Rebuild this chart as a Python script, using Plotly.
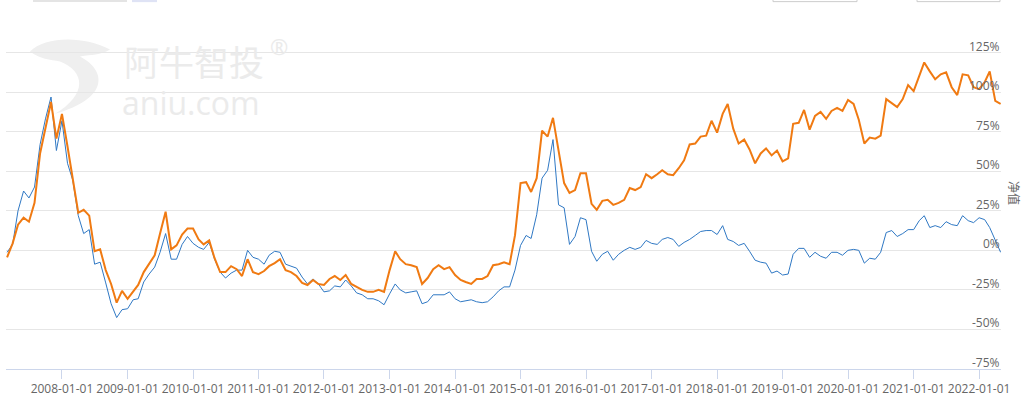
import plotly.graph_objects as go
import pandas as pd

# monthly samples, 2007-03 .. 2022-05
months = pd.date_range("2007-03-01", periods=183, freq="MS")

blue_pct = [
    -1.25, 3.75, 25, 37.5, 33.1, 40, 66.9, 83.1, 96.9, 63.1,
    81.9, 55, 44.4, 21.9, 10.6, 13.1, -8.75, -7.5, -20.6, -33.75,
    -42.5, -37.5, -36.9, -31.25, -30.6, -20, -15, -10.6, -1.25, 10.6,
    -5.6, -5.6, 3.75, 8.75, 4.4, 1.9, 0.6, 5, -5.6, -13.75,
    -17.5, -14.4, -12.5, -12.5, 0, -4.4, -5.6, -8.75, -3.1, -0.6,
    -1.25, -8.75, -10, -11.25, -16.9, -21.25, -18.1, -21.25, -26.25, -25.6,
    -22.5, -23.1, -18.75, -22.5, -26.9, -28.1, -30.6, -30.6, -31.9, -34.4,
    -27.5, -21.25, -25, -26.9, -26.25, -25.6, -33.75, -32.5, -28.1, -28.1,
    -28.1, -26.25, -30.6, -32.5, -31.9, -31.25, -32.5, -33.1, -32.5, -29.4,
    -25.6, -23.1, -23.1, -12.5, 3.1, 9.4, 7.5, 22.5, 45.6, 50.6,
    70, 28.75, 26.9, 3.75, 8.75, 20.6, 19.4, -0.6, -6.9, -2.5,
    -0.6, -6.25, -2.5, 0, 1.9, 0.6, 1.9, 6.25, 4.4, 3.75,
    6.9, 8.1, 6.9, 2.5, 5, 6.9, 9.4, 11.9, 12.5, 12.5,
    10, 15.6, 6.9, 5.6, 3.1, 4.4, -0.6, -6.25, -7.5, -8.1,
    -14.4, -13.1, -15.6, -15, -2.5, 1.25, 1.25, -4.4, -1.25, -3.75,
    -5, -1.25, -1.25, -3.1, 0, 0.6, 0, -8.1, -5, -5.6,
    -1.25, 11.25, 12.5, 8.75, 10.6, 13.1, 13.1, 18.75, 21.9, 14.4,
    15.6, 14.4, 18.1, 16.25, 15.6, 21.9, 18.75, 17.5, 20.6, 19.4,
    14.4, 6.25, -1.25,
]

orange_pct = [
    -4.4, 4.4, 16.25, 20.6, 18.1, 30, 61.25, 78.1, 93.75, 70.6,
    86.25, 65.6, 44.4, 23.75, 25.6, 21.9, -0.6, 0.6, -12.5, -21.25,
    -33.1, -25.6, -30.6, -26.25, -21.9, -13.75, -8.75, -3.1, 10.6, 24.4,
    0.6, 3.1, 10, 13.75, 13.75, 6.9, 3.75, 6.25, -5, -13.75,
    -13.75, -10, -11.9, -16.25, -5.6, -13.75, -15, -13.1, -10, -8.1,
    -5.6, -12.5, -13.75, -16.25, -20.6, -21.9, -18.75, -21.25, -21.9, -18.1,
    -16.25, -18.75, -15.6, -21.25, -23.1, -25, -26.25, -26.25, -25, -26.25,
    -12.5, -0.6, -5.6, -8.75, -9.4, -10.6, -21.25, -17.5, -11.9, -9.4,
    -11.9, -10.6, -15.6, -18.75, -20, -21.25, -18.1, -18.1, -16.25, -9.4,
    -8.75, -7.5, -8.75, 9.4, 42.5, 43.1, 36.9, 45.6, 75.6, 71.9,
    83.75, 63.1, 42.5, 36.25, 38.1, 48.75, 48.75, 29.4, 25.6, 31.25,
    31.9, 28.75, 30, 31.9, 39.4, 38.1, 40, 48.1, 45.6, 48.1,
    50.6, 48.1, 47.5, 51.9, 56.9, 66.9, 67.5, 71.9, 72.5, 81.9,
    74.4, 86.25, 92.5, 76.9, 67.5, 70, 63.75, 55, 61.25, 64.4,
    60, 63.1, 56.25, 58.1, 80, 80.6, 88.75, 76.25, 85, 87.5,
    83.1, 88.1, 90, 88.1, 95, 92.5, 82.5, 67.5, 71.25, 70.6,
    72.5, 95.6, 93.1, 90.6, 95.6, 104.4, 100.6, 110.6, 118.75, 113.1,
    108.1, 111.25, 112.5, 103.1, 98.1, 111.25, 110.6, 103.1, 101.9, 106.25,
    113.1, 94.4, 92.5,
]

y_ticks = [-75, -50, -25, 0, 25, 50, 75, 100, 125]
y_labels = ["-75%", "-50%", "-25%", "0%", "25%", "50%", "75%", "100%", "125%"]
x_ticks = [f"{y}-01-01" for y in range(2008, 2023)]

W, H = 1024, 403
L, R, T, B = 6, 23, 13, 30
GRAY = "#666666"


def paper(px, py):
    # pixel position -> paper coords (for the watermark only)
    return (px - L) / (W - L - R), (H - B - py) / (H - T - B)


def path_from(points):
    out = []
    for cmd, pts in points:
        coords = " ".join("%.4f,%.4f" % paper(*p) for p in pts)
        out.append(cmd + " " + coords)
    return " ".join(out) + " Z"


fig = go.Figure()

fig.add_trace(go.Scatter(
    x=months, y=blue_pct, mode="lines", name="基准",
    line=dict(color="#2f78c4", width=1),
))
fig.add_trace(go.Scatter(
    x=months, y=orange_pct, mode="lines", name="策略",
    line=dict(color="#f07a12", width=2),
))

# watermark logo (light swoosh)
logo = path_from([
    ("M", [(30, 52)]),
    ("C", [(45, 36), (85, 36), (110, 50)]),
    ("C", [(100, 56), (92, 55), (80, 57)]),
    ("C", [(108, 72), (108, 100), (55, 115)]),
    ("C", [(88, 95), (85, 72), (60, 62)]),
    ("C", [(50, 60), (40, 60), (30, 52)]),
])
fig.add_shape(type="path", path=logo, xref="paper", yref="paper",
              fillcolor="#efefef", line=dict(width=0), layer="below")

annotations = [
    dict(text="阿牛智投", x=paper(122, 0)[0], y=paper(0, 61)[1], xref="paper", yref="paper",
         xanchor="left", yanchor="middle", showarrow=False, height=38,
         font=dict(size=35, color="#ebebeb", family="Noto Sans CJK SC")),
    dict(text="®", x=paper(268, 0)[0], y=paper(0, 46)[1], xref="paper", yref="paper",
         xanchor="left", yanchor="middle", showarrow=False,
         font=dict(size=22, color="#ebebeb", family="Noto Sans")),
    dict(text="aniu.com", x=paper(120, 0)[0], y=paper(0, 103)[1], xref="paper", yref="paper",
         xanchor="left", yanchor="middle", showarrow=False, height=34,
         font=dict(size=32, color="#ebebeb", family="Open Sans")),
    dict(text="净值", x=paper(1014, 0)[0], y=paper(0, 195)[1], xref="paper", yref="paper",
         xanchor="center", yanchor="middle", showarrow=False, textangle=90,
         font=dict(size=12, color=GRAY, family="Noto Sans CJK SC")),
]
for v, t in zip(y_ticks, y_labels):
    annotations.append(dict(
        text=t, x=1.0, y=v, xref="paper", yref="y", xanchor="right", yanchor="bottom",
        yshift=-3, showarrow=False, font=dict(size=12, color=GRAY, family="Open Sans"),
        borderpad=0,
    ))

# cut-off toolbar pieces at the very top
for x0, x1, col in [(33, 127, "#e4e4e4"), (132, 157, "#dfe3f5")]:
    fig.add_shape(type="rect", xref="paper", yref="paper",
                  x0=paper(x0, 0)[0], x1=paper(x1, 0)[0],
                  y0=paper(0, 2)[1], y1=paper(0, -4)[1],
                  fillcolor=col, line=dict(width=0))
for x0, x1 in [(773, 857), (917, 1000)]:
    fig.add_shape(type="rect", xref="paper", yref="paper",
                  x0=paper(x0, 0)[0], x1=paper(x1, 0)[0],
                  y0=paper(0, 1.5)[1], y1=paper(0, -6)[1],
                  fillcolor="white", line=dict(width=1, color="#cccccc"))

fig.update_layout(
    width=W, height=H,
    margin=dict(l=L, r=R, t=T, b=B),
    paper_bgcolor="white", plot_bgcolor="white",
    showlegend=False,
    annotations=annotations,
    xaxis=dict(
        type="date", range=["2007-02-23", "2022-05-03"],
        tickvals=x_ticks, tickformat="%Y-%m-%d",
        ticks="outside", ticklen=9, tickcolor="#ccd6eb",
        showline=True, linecolor="#ccd6eb", linewidth=1,
        showgrid=False, zeroline=False,
        tickfont=dict(size=12, color=GRAY, family="Open Sans"),
    ),
    yaxis=dict(
        range=[-75, 150], tickvals=y_ticks + [150], showticklabels=False,
        showgrid=True, gridcolor="#e6e6e6", gridwidth=1,
        zeroline=False, showline=False,
    ),
)

# the page's default body margin would shift the fixed-size figure
fig.write_html("out.html", config={"displayModeBar": False},
               post_script="document.body.style.margin='0';")
